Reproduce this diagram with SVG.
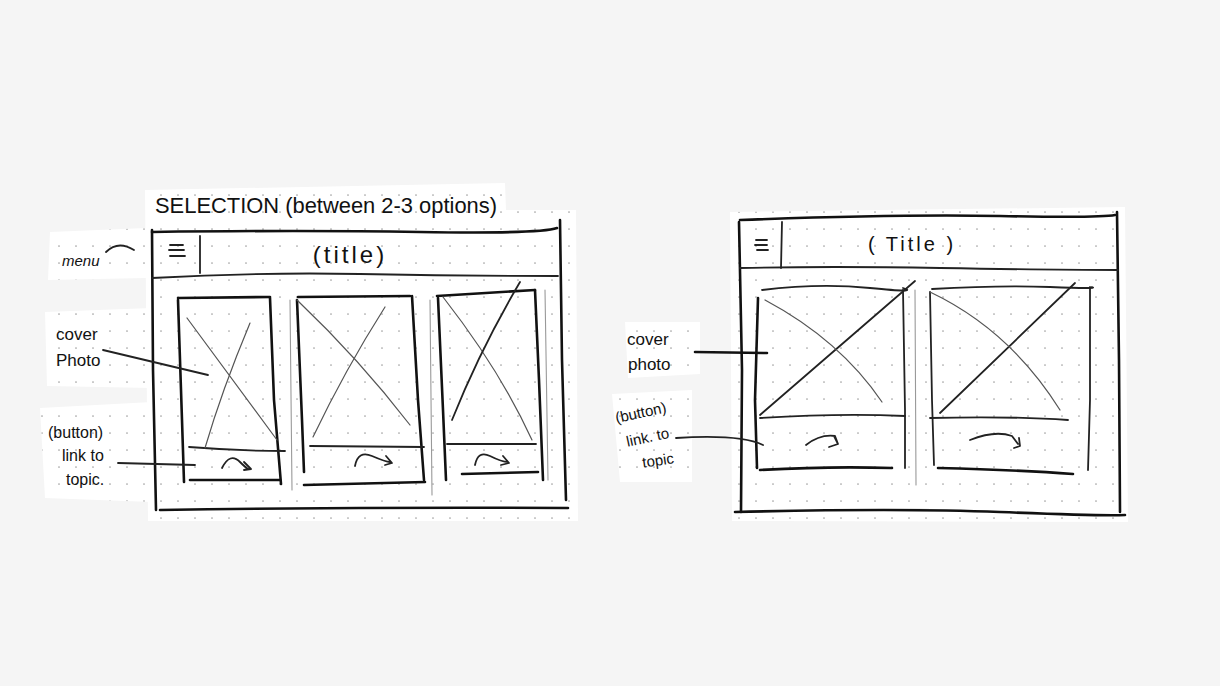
<svg xmlns="http://www.w3.org/2000/svg" width="1220" height="686" viewBox="0 0 1220 686">
<style>
.paper{fill:#fff}
.dots{fill:url(#dots)}
.ink{fill:none;stroke:#111;stroke-width:2.6;stroke-linecap:round;stroke-linejoin:round}
.ink2{fill:none;stroke:#222;stroke-width:1.8;stroke-linecap:round;stroke-linejoin:round}
.pencil{fill:none;stroke:#555;stroke-width:1.2;stroke-linecap:round}
.faint{fill:none;stroke:#999;stroke-width:1.1;stroke-linecap:round}
.hand{font-family:"Liberation Sans","DejaVu Sans",sans-serif;fill:#111}
</style>
<defs>
<pattern id="dots" x="0" y="0" width="17" height="17" patternUnits="userSpaceOnUse">
<circle cx="8" cy="8" r="0.85" fill="#a0a0a0"/>
</pattern>
</defs>
<rect width="1220" height="686" fill="#f5f5f5"/>

<g id="paper">
<polygon class="paper" points="145,190 505,183 506,210 576,210 578,521 148,521"/>
<polygon class="paper" points="50,232 146,228 146,278 48,280"/>
<polygon class="paper" points="45,312 152,308 152,388 47,386"/>
<polygon class="paper" points="40,408 152,402 152,502 45,498"/>
<polygon class="paper" points="730,212 1125,207 1128,522 732,521"/>
<polygon class="paper" points="625,322 700,322 700,374 628,378"/>
<polygon class="paper" points="612,394 692,390 692,482 620,482"/>
<polygon class="dots" points="145,190 505,183 506,210 576,210 578,521 148,521"/>
<polygon class="dots" points="50,232 146,228 146,278 48,280"/>
<polygon class="dots" points="45,312 152,308 152,388 47,386"/>
<polygon class="dots" points="40,408 152,402 152,502 45,498"/>
<polygon class="dots" points="730,212 1125,207 1128,522 732,521"/>
<polygon class="dots" points="625,322 700,322 700,374 628,378"/>
<polygon class="dots" points="612,394 692,390 692,482 620,482"/>
</g>

<g id="left-screen">
<text class="hand" x="155" y="213" font-size="22" textLength="342" lengthAdjust="spacingAndGlyphs">SELECTION (between 2-3 options)</text>
<path class="ink" d="M152,230 L153,370 L156,510"/>
<path class="ink" d="M152,232 Q300,230 420,232 T557,228"/>
<path class="ink" d="M560,220 L562,360 L566,500"/>
<path class="ink" d="M160,510 Q360,507 568,508"/>
<path class="ink2" d="M152,278 Q260,272 360,274 T558,276"/>
<path class="ink2" d="M200,236 L200,273"/>
<path class="ink2" d="M170,245 L183,245 M169,250 L184,250 M170,256 L185,256"/>
<text class="hand" x="350" y="263" font-size="24" text-anchor="middle" letter-spacing="3">(title)</text>
</g>

<g id="left-card-1">
<path class="ink" d="M178,298 L270,297"/>
<path class="ink" d="M178,300 L182,420 L184,482"/>
<path class="ink" d="M270,298 L274,400 L281,484"/>
<path class="ink2" d="M189,447 Q240,451 285,451"/>
<path class="ink" d="M190,480 L280,480"/>
<path class="pencil" d="M187,318 L277,440"/>
<path class="pencil" d="M250,323 Q222,390 205,448"/>
<path class="ink2" d="M222,468 Q230,452 240,462 T250,468 M244,462 L251,469 L244,470"/>
<path class="faint" d="M290,300 L292,490"/>
</g>

<g id="left-card-2">
<path class="ink" d="M298,297 L410,296"/>
<path class="ink" d="M297,300 L302,420 L304,472"/>
<path class="ink" d="M412,296 L418,400 L424,480"/>
<path class="ink2" d="M310,446 L424,447"/>
<path class="ink" d="M304,485 L425,482"/>
<path class="pencil" d="M297,300 Q360,360 410,425"/>
<path class="pencil" d="M385,307 Q345,370 313,437"/>
<path class="ink2" d="M355,466 Q358,450 372,456 T390,462 M386,456 L392,463 L385,465"/>
<path class="faint" d="M430,300 L432,495"/>
</g>

<g id="left-card-3">
<path class="ink" d="M437,296 L535,290"/>
<path class="ink" d="M438,298 L443,410 L446,480"/>
<path class="ink" d="M535,290 L539,380 L543,480"/>
<path class="ink2" d="M447,444 L536,444"/>
<path class="ink" d="M462,474 L538,472"/>
<path class="pencil" d="M443,297 Q500,370 532,440"/>
<path class="ink2" d="M520,282 Q480,350 452,420"/>
<path class="ink2" d="M475,465 Q478,450 490,456 T508,462 M503,456 L509,463 L501,465"/>
<path class="faint" d="M545,290 L548,480"/>
</g>

<g id="left-labels">
<text class="hand" x="62" y="266" font-size="15" font-style="italic">menu</text>
<text class="hand" x="56" y="340" font-size="17">cover</text>
<text class="hand" x="56" y="366" font-size="17">Photo</text>
<text class="hand" x="48" y="438" font-size="16">(button)</text>
<text class="hand" x="62" y="461" font-size="16">link to</text>
<text class="hand" x="66" y="485" font-size="16">topic.</text>
</g>

<g id="right-screen">
<path class="ink" d="M739,222 L742,370 L741,512"/>
<path class="ink" d="M740,220 Q900,214 1000,216 T1115,215"/>
<path class="ink" d="M1117,212 L1119,360 L1120,512"/>
<path class="ink" d="M735,512 Q900,508 1000,512 T1125,515"/>
<path class="ink2" d="M740,268 Q830,266 940,268 T1118,270"/>
<path class="ink2" d="M782,222 L781,268"/>
<path class="ink2" d="M756,240 L767,240 M755,245 L767,245 M757,250 L768,250"/>
<text class="hand" x="912" y="251" font-size="20" text-anchor="middle" letter-spacing="3">( Title )</text>
<path class="faint" d="M915,290 L916,485"/>
</g>

<g id="right-card-1">
<path class="ink2" d="M762,290 Q820,283 870,288 T903,288"/>
<path class="ink" d="M758,298 L755,400 L757,468"/>
<path class="ink2" d="M903,290 L905,410 L905,468"/>
<path class="ink2" d="M760,418 Q840,413 905,416"/>
<path class="ink" d="M760,470 Q830,466 892,468"/>
<path class="ink2" d="M760,415 L915,281"/>
<path class="pencil" d="M765,300 Q840,340 882,402"/>
<path class="ink2" d="M806,445 Q820,434 835,436 L838,444 M834,436 L838,444 L829,447"/>
</g>

<g id="right-card-2">
<path class="ink2" d="M932,289 Q1000,285 1050,287 T1092,287"/>
<path class="ink2" d="M930,292 L932,400 L934,465"/>
<path class="ink2" d="M1090,287 L1090,400 L1088,470"/>
<path class="ink2" d="M930,418 Q1010,416 1068,420"/>
<path class="ink" d="M938,468 Q1020,470 1073,474"/>
<path class="ink2" d="M940,413 L1075,283"/>
<path class="pencil" d="M930,292 Q1010,330 1060,410"/>
<path class="ink2" d="M970,440 Q995,430 1012,436 L1018,444 M1014,448 L1020,446 L1019,438"/>
</g>

<g id="right-labels">
<text class="hand" x="627" y="345" font-size="17">cover</text>
<text class="hand" x="628" y="370" font-size="17">photo</text>
<text class="hand" x="616" y="418" font-size="15" transform="rotate(-12 640 418)">(button)</text>
<text class="hand" x="627" y="442" font-size="15" transform="rotate(-12 650 442)">link. to</text>
<text class="hand" x="643" y="466" font-size="15" transform="rotate(-8 655 466)">topic</text>
</g>

<g id="connectors">
<path class="ink2" d="M106,252 Q118,240 134,250"/>
<path class="ink2" d="M103,350 L208,375"/>
<path class="ink2" d="M118,463 L195,465"/>
<path class="ink" d="M695,352 L767,353"/>
<path class="ink2" d="M676,438 Q740,434 763,445"/>
</g>
</svg>
